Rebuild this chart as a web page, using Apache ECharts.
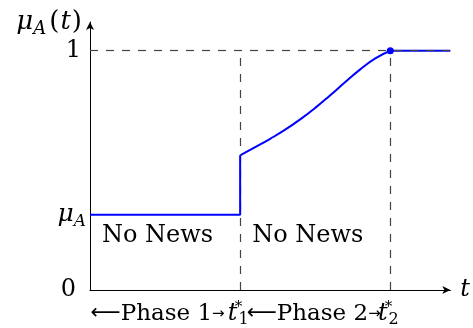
<!DOCTYPE html>
<html>
<head>
<meta charset="utf-8">
<script src="https://cdn.jsdelivr.net/npm/echarts@6/dist/echarts.min.js"></script>
<style>
  html, body { margin: 0; padding: 0; background: #fff; }
  #chart { width: 473px; height: 328px; }
</style>
</head>
<body>
<div id="chart"></div>
<script>
// Key instants on the time axis
const T1 = 1;
const T2 = 2;
const T_END = 2.4;
const MU_A = 0.314;

// Phase 1: flat prior, then the jump at t1*
const phase1T = [0, T1, T1];
const phase1Mu = [MU_A, MU_A, 0.563];

// Phase 2: belief rising towards 1
const curveT = [1.0, 1.1, 1.2, 1.3, 1.4, 1.5, 1.6, 1.7, 1.8, 1.9, 2.0];
const curveMu = [0.563, 0.597, 0.632, 0.670, 0.713, 0.761, 0.814, 0.869, 0.922, 0.968, 1.0];

// After t2*: fully informed
const tailT = [T2, T_END];
const tailMu = [1, 1];

// Axis labels
const yTickValues = [0, MU_A, 1];
const yTickText = ['0', 'μA', '1'];
const instantValues = [T1, T2];
const instantText = ['1', '2'];
const phaseValues = [0.45, 1.49];
const phaseText = ['Phase 1', 'Phase 2'];

// In-plot notes
const noteT = [0, T1];
const noteText = ['No News', 'No News'];

const SERIF = '"DejaVu Serif", "Liberation Serif", serif';
const ARROWS = '"DejaVu Sans", "Noto Sans", sans-serif';
const BLUE = '#0000ff';
const FS = 24;

const zip = (xs, ys) => xs.map((x, i) => [x, ys[i]]);
const findIdx = (arr, v) => arr.findIndex(a => Math.abs(a - v) < 1e-6);

const chart = echarts.init(document.getElementById('chart'), null, { renderer: 'canvas' });

const axisArrow = {
  show: true,
  onZero: false,
  lineStyle: { color: '#000', width: 1 },
  symbol: ['none', 'arrow'],
  symbolSize: [6, 8]
};

const option = {
  animation: false,
  backgroundColor: '#fff',
  grid: { left: 90, right: 20, top: 22, bottom: 35, containLabel: false },
  xAxis: [
    {
      // time axis with the two instants t1*, t2*
      type: 'value',
      min: 0,
      max: T_END,
      splitLine: { show: false },
      axisTick: { show: false },
      axisLine: axisArrow,
      name: 't',
      nameLocation: 'end',
      nameGap: 10,
      nameTextStyle: { fontFamily: SERIF, fontSize: FS, fontStyle: 'italic', color: '#000', verticalAlign: 'middle' },
      axisLabel: {
        customValues: instantValues,
        hideOverlap: false,
        margin: 10,
        color: '#000',
        verticalAlign: 'top',
        formatter: function (v) {
          const i = findIdx(instantValues, v);
          if (i < 0) return '';
          return '{it|t}{sup|*}{sub|' + instantText[i] + '}';
        },
        rich: {
          it: { fontFamily: SERIF, fontSize: FS, fontStyle: 'italic', color: '#000', lineHeight: 28, padding: [0, 1, 0, 0] },
          sup: { fontFamily: SERIF, fontSize: 15, color: '#000', lineHeight: 14, verticalAlign: 'top', width: 0 },
          sub: { fontFamily: SERIF, fontSize: 16, color: '#000', lineHeight: 15, verticalAlign: 'bottom', padding: [0, 4, 0, 0] }
        }
      }
    },
    {
      // phase captions between the instants
      type: 'value',
      min: 0,
      max: T_END,
      position: 'bottom',
      splitLine: { show: false },
      axisTick: { show: false },
      axisLine: { show: false },
      axisLabel: {
        customValues: phaseValues,
        hideOverlap: false,
        margin: 10,
        color: '#000',
        verticalAlign: 'top',
        formatter: function (v) {
          const i = findIdx(phaseValues, v);
          if (i < 0) return '';
          return '{la|⟵}{txt|' + phaseText[i] + '}{ra|→}';
        },
        rich: {
          la: { fontFamily: ARROWS, fontSize: 21, color: '#000', lineHeight: 28 },
          ra: { fontFamily: ARROWS, fontSize: 15, color: '#000', lineHeight: 28 },
          txt: { fontFamily: SERIF, fontSize: 23, color: '#000', lineHeight: 28 }
        }
      }
    }
  ],
  yAxis: {
    type: 'value',
    min: 0,
    max: 1.12,
    splitLine: { show: false },
    axisTick: { show: false },
    axisLine: axisArrow,
    name: '{mu|μ}{sub|A}{n|(}{t|t}{n|)}',
    nameLocation: 'end',
    nameGap: 0,
    nameTextStyle: {
      align: 'right',
      verticalAlign: 'middle',
      padding: [0, 8, 0, 0],
      rich: {
        mu: { fontFamily: SERIF, fontSize: 26, fontStyle: 'italic', color: '#000', lineHeight: 32 },
        sub: { fontFamily: SERIF, fontSize: 18, fontStyle: 'italic', color: '#000', lineHeight: 16, verticalAlign: 'bottom', padding: [0, 3, 0, 0] },
        n: { fontFamily: SERIF, fontSize: 26, color: '#000', lineHeight: 32 },
        t: { fontFamily: SERIF, fontSize: 26, fontStyle: 'italic', color: '#000', lineHeight: 32, padding: [0, 1, 0, 1] }
      }
    },
    axisLabel: {
      customValues: yTickValues,
      hideOverlap: false,
      margin: 4,
      color: '#000',
      formatter: function (v) {
        const i = findIdx(yTickValues, v);
        if (i < 0) return '';
        const s = yTickText[i];
        if (s === 'μA') return '{mu|μ}{sub|A}';
        return s === '0' ? '{r0|0}' : '{r1|1}';
      },
      rich: {
        r0: { fontFamily: SERIF, fontSize: FS, color: '#000', padding: [0, 10, 0, 0] },
        r1: { fontFamily: SERIF, fontSize: FS, color: '#000', padding: [0, 5, 0, 0] },
        mu: { fontFamily: SERIF, fontSize: 25, fontStyle: 'italic', color: '#000', lineHeight: 30 },
        sub: { fontFamily: SERIF, fontSize: 17, fontStyle: 'italic', color: '#000', lineHeight: 16, verticalAlign: 'bottom' }
      }
    }
  },
  series: [
    {
      name: 'phase1',
      type: 'line',
      data: zip(phase1T, phase1Mu),
      showSymbol: false,
      lineStyle: { color: BLUE, width: 2 },
      z: 5
    },
    {
      name: 'phase2',
      type: 'line',
      data: zip(curveT, curveMu),
      smooth: 0.5,
      showSymbol: false,
      lineStyle: { color: BLUE, width: 2 },
      z: 3
    },
    {
      name: 'tail',
      type: 'line',
      data: zip(tailT, tailMu),
      showSymbol: false,
      lineStyle: { color: BLUE, width: 2 },
      z: 3,
      markLine: {
        silent: true,
        symbol: ['none', 'none'],
        label: { show: false },
        lineStyle: { color: '#444', width: 1.2, type: [8, 8] },
        data: [
          [{ coord: [0, 1] }, { coord: [T_END, 1] }],
          [{ coord: [T1, 0] }, { coord: [T1, 1] }],
          [{ coord: [T2, 0] }, { coord: [T2, 1] }]
        ]
      }
    },
    {
      name: 'reached',
      type: 'scatter',
      data: [[T2, 1]],
      symbol: 'circle',
      symbolSize: 7,
      itemStyle: { color: BLUE, opacity: 1 },
      z: 6
    },
    {
      name: 'notes',
      type: 'scatter',
      data: zip(noteT, [0.225, 0.225]),
      symbolSize: 0,
      silent: true,
      itemStyle: { opacity: 1 },
      label: {
        show: true,
        position: 'right',
        distance: 12,
        color: '#000',
        opacity: 1,
        fontFamily: SERIF,
        fontSize: FS,
        formatter: p => noteText[p.dataIndex]
      }
    }
  ]
};

chart.setOption(option);
</script>
</body>
</html>
